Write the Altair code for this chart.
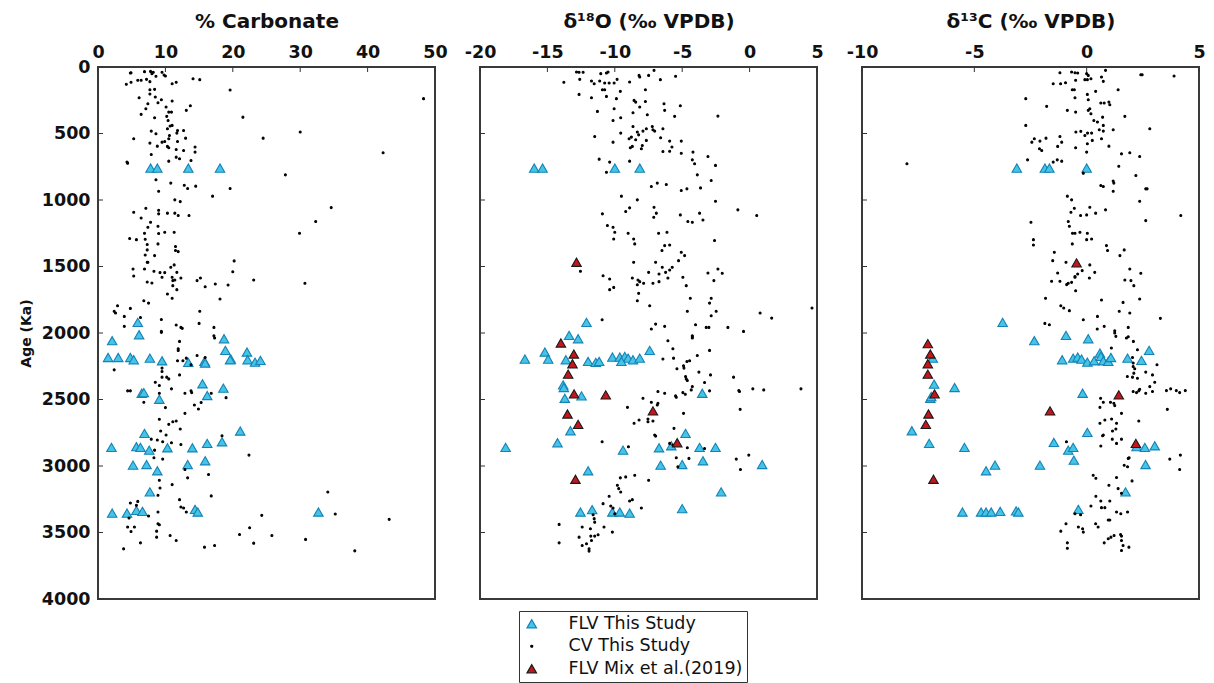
import altair as alt
import pandas as pd

SERIES = ["FLV This Study", "CV This Study", "FLV Mix et al.(2019)"]
FILL = ["#45C4E8", "#000000", "#C4161C"]
STROKE = ["#1583B5", "#000000", "#1a1a1a"]
SHAPE = ["triangle-up", "circle", "triangle-up"]
SIZE = [90, 4, 90]

AGE_TICKS = [0, 500, 1000, 1500, 2000, 2500, 3000, 3500, 4000]
CARB_TICKS = [0, 10, 20, 30, 40, 50]
O18_TICKS = [-20, -15, -10, -5, 0, 5]
C13_TICKS = [-10, -5, 0, 5]

# ---------- % Carbonate (value, age ka) ----------
CARB_CV = [
    (4.8, 45), (4.9, 43), (6.9, 35), (7.8, 33), (8.0, 50), (8.2, 40), (8.6, 70), (9.5, 40), (9.8, 60), (10.0, 68),
    (4.2, 130), (4.9, 115), (5.9, 100), (6.4, 100), (7.2, 93), (7.7, 110), (11.0, 126), (11.6, 115), (14.1, 88), (15.1, 95),
    (19.6, 173), (48.3, 238), (7.7, 171), (8.4, 168), (7.7, 203), (8.5, 226), (6.1, 231), (9.4, 246), (8.9, 269), (7.4, 276),
    (7.1, 314), (10.1, 301), (10.5, 339), (10.9, 339), (11.0, 256), (13.7, 291), (13.1, 326), (6.4, 356), (8.4, 382), (10.2, 371),
    (10.4, 402), (10.7, 444), (11.0, 439), (10.3, 464), (7.9, 482), (8.6, 502), (11.8, 477), (11.7, 497), (12.7, 477), (21.5, 377),
    (30.0, 489), (5.3, 540), (10.6, 515), (10.5, 540), (9.9, 560), (9.5, 565), (11.8, 560), (13.0, 535), (7.7, 572), (8.8, 595),
    (10.3, 597), (10.5, 607), (11.6, 620), (12.7, 628), (14.4, 602), (14.4, 640), (7.9, 658), (13.8, 703), (11.6, 678), (12.1, 690),
    (10.5, 708), (4.3, 715), (4.4, 723), (42.3, 645), (24.5, 535), (8.6, 848), (9.0, 934), (10.8, 873), (12.8, 889), (13.3, 914),
    (14.5, 896), (19.6, 914), (27.8, 811), (17.0, 971), (11.4, 999), (12.2, 1012), (34.6, 1057), (5.3, 1092), (7.1, 1062), (9.0, 1077),
    (9.0, 1104), (10.3, 1099), (11.4, 1099), (11.9, 1117), (13.5, 1117), (6.4, 1135), (7.8, 1167), (7.4, 1205), (8.9, 1197), (32.3, 1162),
    (29.9, 1250), (6.9, 1250), (9.0, 1252), (9.9, 1242), (11.3, 1242), (4.7, 1290), (5.7, 1298), (7.0, 1295), (7.3, 1335), (7.3, 1375),
    (8.9, 1330), (11.5, 1350), (11.5, 1380), (11.9, 1388), (7.0, 1413), (8.4, 1418), (20.2, 1458), (7.3, 1468), (7.4, 1468), (5.2, 1519),
    (5.3, 1571), (6.9, 1519), (8.3, 1536), (9.2, 1546), (9.5, 1581), (9.9, 1546), (10.8, 1506), (11.3, 1488), (11.7, 1544), (11.0, 1581),
    (11.1, 1606), (11.4, 1601), (12.3, 1586), (7.3, 1616), (8.0, 1624), (14.7, 1606), (15.2, 1586), (15.9, 1652), (17.4, 1632), (19.3, 1639),
    (20.0, 1539), (23.1, 1601), (30.7, 1626), (11.7, 1674), (11.1, 1644), (10.3, 1707), (11.0, 1739), (18.1, 1744), (6.8, 1757), (7.5, 1775),
    (2.9, 1795), (2.4, 1837), (2.6, 1850), (4.8, 1815), (3.9, 1875), (6.3, 1883), (9.4, 1898), (15.1, 1837), (15.0, 1928), (17.2, 1958),
    (11.6, 1940), (12.3, 1958), (12.5, 1965), (3.9, 1950), (9.4, 1988), (17.2, 2021),
    (9.4, 1995), (12.1, 2063), (11.9, 2118), (11.9, 2131), (17.3, 2038), (2.4, 2277), (9.5, 2264), (9.5, 2289), (11.8, 2209), (12.6, 2209),
    (13.1, 2189), (13.8, 2239), (14.7, 2169), (15.9, 2184), (9.5, 2332), (10.2, 2332), (10.5, 2345), (8.5, 2370), (9.1, 2395), (12.1, 2315),
    (10.9, 2420), (4.4, 2435), (4.8, 2435), (6.8, 2521), (9.1, 2453), (10.0, 2561), (12.9, 2453), (13.8, 2435), (13.9, 2448), (14.3, 2541),
    (14.9, 2571), (15.3, 2523), (16.8, 2453), (19.0, 2486), (9.1, 2649), (10.5, 2687), (11.1, 2667), (11.6, 2662), (12.2, 2722), (12.9, 2604),
    (9.3, 2737), (10.1, 2767), (9.6, 2818), (7.9, 2798), (8.8, 2805), (8.4, 2881), (8.3, 2938), (9.6, 2948), (10.9, 2825), (12.3, 2838),
    (18.4, 2772), (22.4, 2918), (16.4, 3064), (13.3, 3089), (12.9, 3026), (9.1, 3107), (11.0, 3140), (9.2, 3165), (8.9, 3220), (16.8, 3225),
    (12.1, 3253), (12.3, 3308), (12.7, 3316), (13.1, 3346), (8.9, 3346), (4.8, 3278), (5.9, 3266), (5.7, 3296), (7.5, 3376), (4.6, 3391),
    (4.4, 3459), (5.4, 3459), (4.9, 3492), (6.3, 3578), (3.8, 3623), (8.9, 3434), (9.1, 3442), (8.7, 3490), (8.7, 3535), (10.7, 3522),
    (11.6, 3560), (15.8, 3610), (17.3, 3598), (21.0, 3515), (22.5, 3464), (23.1, 3580), (24.3, 3371), (25.8, 3522), (30.8, 3552), (34.1, 3195),
    (35.2, 3361), (43.2, 3401), (38.1, 3638),
]
CARB_FLV = [
    (7.8, 760), (8.8, 760), (13.4, 760), (18.1, 760), (5.9, 1920), (6.1, 2013), (2.1, 2058), (18.7, 2043), (18.9, 2131), (19.7, 2196),
    (22.1, 2143), (1.5, 2184), (3.0, 2184), (4.8, 2184), (5.3, 2201), (7.7, 2189), (9.5, 2209), (13.4, 2221), (15.8, 2214), (15.9, 2226),
    (19.6, 2201), (22.2, 2201), (23.3, 2219), (24.1, 2206), (15.5, 2382), (16.2, 2470), (18.6, 2415), (6.5, 2453), (6.8, 2448), (9.1, 2498),
    (6.9, 2755), (21.1, 2737), (2.0, 2860), (5.7, 2855), (6.3, 2860), (7.6, 2881), (10.3, 2863), (14.0, 2863), (16.2, 2830), (18.4, 2818),
    (5.2, 2994), (7.2, 2989), (8.8, 3036), (13.3, 2989), (15.9, 2961), (7.7, 3195), (2.1, 3354), (4.3, 3354), (5.7, 3334), (6.6, 3341),
    (14.4, 3326), (14.8, 3346), (32.7, 3346),
]
CARB_MIX = []

# ---------- d18O ----------
O18_CV = [
    (-12.84, 38), (-12.65, 40), (-12.35, 40), (-13.78, 115), (-12.6, 93), (-12.65, 206), (-11.73, 105), (-11.53, 126), (-11.12, 105),
    (-11.04, 50), (-10.62, 45), (-10.5, 38), (-10.75, 120), (-10.42, 120), (-10.05, 120), (-9.83, 93), (-9.59, 183), (-9.88, 238), (-8.9, 113),
    (-8.2, 63), (-8.15, 75), (-7.49, 63), (-7.09, 25), (-6.62, 95), (-5.49, 70), (-10.92, 171), (-10.75, 171), (-10.62, 221), (-11.73, 231),
    (-11.29, 334), (-10.05, 314), (-10.13, 402), (-9.56, 382), (-8.57, 251), (-8.45, 264), (-8.65, 344), (-7.73, 171), (-7.73, 259), (-8.15, 301),
    (-7.59, 359), (-6.35, 276), (-6.3, 326), (-5.14, 291), (-5.56, 371), (-2.35, 369), (-8.65, 447), (-8.33, 489), (-7.91, 482), (-7.66, 464),
    (-7.17, 472), (-7.04, 482), (-7.22, 447), (-6.43, 464), (-9.56, 497), (-8.94, 540), (-8.77, 527), (-8.45, 547), (-8.85, 607), (-8.7, 597),
    (-8.23, 510), (-7.96, 590), (-8.03, 615), (-7.66, 552), (-6.6, 532), (-5.93, 557), (-5.76, 602), (-5.93, 633), (-6.43, 635), (-5.07, 557),
    (-5.07, 648), (-10.13, 565), (-11.49, 522), (-4.2, 640), (-4.25, 698), (-4.08, 728), (-3.09, 673), (-2.53, 740), (-3.88, 811), (-2.85, 853),
    (-11.16, 693), (-10.38, 715), (-10.62, 791), (-8.9, 708), (-7.29, 899), (-6.85, 873), (-6.18, 884), (-5.07, 929), (-4.65, 916), (-3.64, 909),
    (-2.53, 1009), (-9.51, 971), (-8.33, 999), (-8.9, 1059), (-9.19, 1087), (-10.92, 1104), (-7.09, 1054), (-6.92, 1099), (-7.11, 1130), (-5.14, 1112),
    (-4.58, 1162), (-4.25, 1167), (-3.71, 1099), (-3.46, 1150), (-0.87, 1074), (0.53, 1117), (-10.55, 1192), (-10.13, 1205), (-10.0, 1242), (-10.08, 1293),
    (-9.01, 1250), (-8.6, 1293), (-8.52, 1330), (-6.75, 1250), (-6.13, 1242), (-6.5, 1380), (-6.3, 1343), (-5.93, 1338), (-2.6, 1305), (-5.07, 1393),
    (-4.82, 1418), (-5.27, 1456), (-8.6, 1468), (-6.97, 1468), (-6.48, 1506), (-6.72, 1556), (-6.23, 1544), (-5.93, 1526), (-5.74, 1506), (-6.06, 1586),
    (-12.55, 1536), (-10.87, 1569), (-10.38, 1594), (-10.38, 1674), (-10.08, 1657), (-8.7, 1586), (-8.28, 1601), (-8.15, 1614), (-8.33, 1637), (-7.86, 1626),
    (-7.49, 1544), (-7.17, 1626), (-6.72, 1614), (-4.95, 1581), (-4.7, 1644), (-3.09, 1549), (-2.65, 1606), (-2.35, 1519), (-2.03, 1551), (-8.23, 1702),
    (-8.33, 1757), (-7.41, 1795), (-4.4, 1739), (-4.62, 1837), (-2.85, 1739), (-2.97, 1775), (-2.48, 1837), (-2.85, 1870), (0.78, 1850), (1.64, 1888),
    (4.63, 1812), (-10.94, 1900), (-6.97, 1933), (-7.29, 1970), (-6.3, 1950), (-4.01, 1938), (-3.22, 1958), (-3.02, 1958), (-1.61, 1958), (-0.45, 1988),
    (-4.25, 2021), (-6.06, 2058),
    (-4.25, 2030), (-4.25, 2038), (-5.69, 2118), (-2.97, 2131), (-6.43, 2196), (-5.64, 2189), (-5.39, 2269), (-4.87, 2264), (-4.65, 2214),
    (-4.45, 2209), (-4.9, 2247), (-3.88, 2169), (-4.75, 2327), (-4.7, 2345), (-4.62, 2357), (-3.76, 2294), (-2.9, 2315), (-3.34, 2372), (-4.25, 2403),
    (-4.33, 2428), (-4.95, 2448), (-4.77, 2460), (-5.49, 2473), (-5.44, 2483), (-2.97, 2435), (-1.19, 2332), (-0.8, 2433), (-0.75, 2440), (0.24, 2420),
    (1.05, 2428), (3.81, 2420), (-0.7, 2574), (-6.8, 2440), (-6.3, 2453), (-7.91, 2491), (-9.06, 2559), (-7.29, 2521), (-6.8, 2528), (-6.85, 2541),
    (-8.2, 2654), (-7.54, 2647), (-7.54, 2667), (-7.17, 2662), (-8.57, 2679), (-4.9, 2604), (-7.04, 2767), (-6.97, 2775), (-5.61, 2717), (-10.94, 2818),
    (-8.99, 2855), (-5.93, 2830), (-5.69, 2843), (-4.62, 2863), (-3.34, 2868), (-5.44, 2938), (-5.32, 3006), (-4.5, 2943), (-0.99, 2948), (-0.06, 2918),
    (-0.68, 3026), (-9.59, 3089), (-9.19, 3082), (-8.52, 3069), (-7.49, 3107), (-9.81, 3145), (-9.71, 3170), (-9.56, 3195), (-10.42, 3228), (-8.9, 3263),
    (-8.7, 3253), (-8.03, 3316), (-10.87, 3283), (-10.3, 3301), (-10.13, 3316), (-10.0, 3359), (-11.61, 3366), (-11.53, 3396), (-11.49, 3422), (-12.42, 3459),
    (-10.8, 3459), (-10.18, 3497), (-11.24, 3517), (-11.49, 3527), (-11.78, 3527), (-11.73, 3560), (-11.81, 3472), (-14.13, 3439), (-14.13, 3578), (-12.65, 3535),
    (-12.42, 3598), (-12.1, 3585), (-11.91, 3623), (-11.91, 3640),
]
O18_FLV = [
    (-15.98, 760), (-15.36, 760), (-10.0, 760), (-8.15, 760), (-12.1, 1920), (-13.39, 2018), (-12.72, 2043), (-16.67, 2196), (-15.19, 2143), (-14.94, 2196),
    (-13.63, 2201), (-11.98, 2214), (-11.41, 2221), (-11.16, 2214), (-10.18, 2181), (-9.63, 2181), (-9.26, 2176), (-9.01, 2189), (-8.65, 2201), (-8.15, 2189),
    (-9.51, 2214), (-7.41, 2131), (-13.83, 2390), (-13.78, 2410), (-13.71, 2491), (-12.47, 2473), (-3.51, 2453), (-13.29, 2735), (-14.25, 2825), (-18.1, 2860),
    (-9.39, 2881), (-6.72, 2863), (-5.81, 2848), (-4.75, 2755), (-3.71, 2860), (-2.53, 2860), (-6.6, 2994), (-5.0, 2989), (-3.46, 2961), (0.93, 2989),
    (-11.98, 3036), (-2.11, 3195), (-12.55, 3346), (-11.68, 3328), (-10.18, 3346), (-9.63, 3346), (-8.9, 3354), (-5.0, 3321),
]
O18_MIX = [
    (-12.84, 1468), (-14.0, 2075), (-13.04, 2158), (-13.14, 2231), (-13.46, 2309), (-13.02, 2458), (-10.67, 2465), (-13.51, 2609),
    (-12.72, 2687), (-7.17, 2586), (-5.37, 2825), (-12.92, 3100),
]

# ---------- d13C ----------
C13_CV = [
    (-1.19, 43), (-0.67, 38), (-0.52, 43), (-0.4, 45), (0.0, 50), (0.07, 63), (0.84, 25), (0.03, 95), (0.19, 88), (0.66, 75), (0.74, 108), (2.41, 58), (2.47, 58), (3.89, 68),
    (-1.49, 126), (-1.16, 126), (-0.94, 118), (-0.49, 100), (-0.08, 95), (-0.64, 171), (-0.55, 171), (0.4, 183), (1.4, 171), (-2.71, 238), (-1.78, 296), (-0.86, 326), (-0.49, 339), (-0.52, 231),
    (0.03, 206), (0.07, 246), (0.14, 314), (0.07, 326), (0.19, 351), (0.63, 271), (0.78, 271), (0.99, 264), (1.03, 284), (1.7, 371), (0.32, 402), (0.48, 414), (0.71, 377), (0.74, 439),
    (0.56, 472), (0.74, 482), (1.18, 472), (2.81, 464), (-2.71, 439), (-2.33, 540), (-2.44, 565), (-2.08, 557), (-1.81, 535), (-2.1, 615), (-2.0, 628), (-2.63, 698), (-1.29, 597), (-1.11, 565), (-1.19, 522),
    (-0.48, 489), (-0.26, 484), (-0.08, 515), (0.04, 497), (0.22, 497), (-0.49, 607), (0.03, 577), (0.0, 640), (0.25, 552), (0.66, 540), (0.99, 595), (1.55, 653), (1.92, 645), (2.36, 673),
    (-1.49, 715), (-1.31, 698), (-1.11, 708), (-8.0, 728), (-0.15, 798), (1.43, 746), (2.19, 816), (0.63, 891), (0.74, 899), (1.18, 858), (1.21, 873), (1.18, 934), (2.63, 916), (2.69, 916),
    (-0.86, 971), (-0.67, 999), (-0.55, 1062), (-0.7, 1092), (-0.27, 1117), (0.0, 1112), (0.14, 1054), (0.4, 1099), (0.84, 1074), (2.36, 1009), (2.63, 1155), (4.19, 1117), (-2.48, 1167),
    (-0.82, 1162), (-0.77, 1197), (-0.63, 1250), (-0.52, 1250), (-0.3, 1242), (0.03, 1250), (0.22, 1293), (0.0, 1298), (-2.37, 1298), (-2.37, 1338), (-0.64, 1330),
    (0.88, 1343), (0.93, 1380), (1.48, 1418), (1.67, 1375), (-1.44, 1393), (-1.51, 1456), (-0.92, 1468), (0.14, 1488), (0.36, 1544), (-0.2, 1531), (-0.4, 1556), (-0.52, 1576), (-0.52, 1581),
    (-1.29, 1549), (-1.56, 1611), (-1.19, 1611), (-0.89, 1636), (-0.82, 1626), (-0.67, 1619), (-0.49, 1682), (0.12, 1586), (1.92, 1519), (2.41, 1551), (1.7, 1601), (1.97, 1606), (2.1, 1644),
    (-1.83, 1739), (-1.15, 1795), (-1.02, 1812), (-0.77, 1832), (0.66, 1752), (1.62, 1770), (2.36, 1744), (-0.15, 1900), (0.48, 1875), (0.78, 1950), (0.47, 1970),
    (1.45, 1837), (1.92, 1850), (1.25, 1983), (1.85, 1958), (1.85, 2028), (3.28, 1890), (-1.86, 1928), (-1.66, 1938),
    (1.25, 2000), (1.3, 2025), (1.77, 2038), (2.08, 2063), (1.1, 2113), (2.26, 2126), (3.13, 2239), (2.04, 2184), (2.07, 2226), (2.07, 2252), (2.14, 2269), (2.1, 2302), (2.04, 2332), (2.26, 2340), (1.81, 2327),
    (2.63, 2294), (2.93, 2315), (3.03, 2370), (2.81, 2403), (2.93, 2440), (2.07, 2440), (2.22, 2448), (2.32, 2435), (2.36, 2423), (2.63, 2453),
    (3.55, 2433), (3.74, 2420), (3.99, 2433), (4.14, 2448), (4.39, 2433), (3.59, 2574), (2.32, 2662),
    (0.62, 2491), (0.74, 2521), (0.59, 2559), (1.06, 2521), (1.21, 2528), (1.25, 2546), (1.55, 2604),
    (0.59, 2679), (0.81, 2654), (1.11, 2647), (1.33, 2679), (1.3, 2722), (1.15, 2737),
    (0.74, 2767), (0.71, 2772), (1.14, 2798), (1.33, 2830), (1.55, 2798), (0.63, 2850), (-0.9, 2818),
    (1.89, 2938), (1.85, 2943), (1.67, 2994), (1.82, 3006), (3.7, 2948), (4.17, 2918), (4.14, 3026),
    (0.29, 3069), (0.41, 3092), (0.99, 3145), (1.33, 3087), (2.02, 3112), (1.4, 3170), (1.55, 3205),
    (0.41, 3228), (0.63, 3263), (1.03, 3263), (0.66, 3313), (0.81, 3313), (0.19, 3301), (0.96, 3406), (1.03, 3406),
    (1.33, 3346), (1.52, 3359), (1.82, 3346), (-0.52, 3359), (-0.27, 3366), (-0.92, 3434), (-1.15, 3490),
    (-0.37, 3459), (-0.18, 3472), (-0.15, 3497), (0.4, 3434), (0.51, 3459), (-0.86, 3578), (-0.86, 3618),
    (0.78, 3578), (0.96, 3547), (1.08, 3535), (1.22, 3522), (1.51, 3515), (1.55, 3527), (1.55, 3560), (1.62, 3598), (1.55, 3635), (1.88, 3610),
]
C13_FLV = [
    (-3.11, 760), (-1.86, 760), (-1.66, 760), (0.0, 760), (-3.74, 1920), (-2.33, 2058), (-0.92, 2018), (0.07, 2043), (2.78, 2131), (2.44, 2206), (-1.09, 2201),
    (-0.6, 2189), (-0.4, 2181), (-0.23, 2196), (0.03, 2219), (0.33, 2209), (0.59, 2151), (0.63, 2176), (0.74, 2209), (0.96, 2214), (1.08, 2184), (1.82, 2189),
    (-6.85, 2189), (-6.79, 2385), (-5.88, 2410), (-6.96, 2491), (-6.92, 2478), (-0.18, 2453), (-7.78, 2735), (-7.01, 2830), (-5.44, 2860),
    (-1.46, 2823), (-0.82, 2881), (-0.6, 2860), (-0.57, 2956), (0.03, 2747), (2.22, 2855), (2.59, 2860), (3.03, 2848), (-4.48, 3036), (-4.08, 2994), (-2.08, 2994),
    (2.62, 2989), (1.73, 3195), (-0.37, 3326), (-5.53, 3346), (-4.7, 3346), (-4.48, 3346), (-4.25, 3346), (-3.85, 3341), (-3.14, 3338), (-3.04, 3346),
]
C13_MIX = [
    (-0.45, 1473), (-7.07, 2080), (-6.96, 2158), (-7.07, 2231), (-7.07, 2309), (-6.77, 2458), (-7.04, 2609), (-7.16, 2687),
    (-1.63, 2586), (1.43, 2465), (2.19, 2830), (-6.82, 3100),
]

FONT = "DejaVu Sans"
INK = "#111111"

LEGEND = alt.Legend(
    title=None, orient="none", legendX=421, legendY=544,
    strokeColor="#333333", fillColor="white", padding=4,
    labelFont=FONT, labelFontSize=17.5, labelColor=INK, labelOffset=28, labelLimit=400,
    rowPadding=3.5, symbolStrokeWidth=1.2,
)


def panel(cv, flv, mix, domain, ticks, title, first):
    rows = []
    for name, pts in ((SERIES[0], flv), (SERIES[1], cv), (SERIES[2], mix)):
        rows += [{"val": v, "age": a, "series": name} for v, a in pts]
    df = pd.DataFrame(rows)
    xscale = alt.Scale(domain=domain, nice=False, zero=False)
    yscale = alt.Scale(domain=[0, 4000], reverse=True, nice=False, zero=False)
    xaxis = alt.Axis(
        orient="top", values=ticks, ticks=False, domain=False, grid=False,
        labelFlush=False, labelOverlap=False, labelExpr="'' + datum.value",
        labelFont=FONT, labelFontWeight="bold", labelFontSize=17.5, labelColor=INK,
        labelPadding=6, titleFont=FONT, titleFontWeight="bold", titleFontSize=20,
        titleColor=INK, titlePadding=12,
    )
    if first:
        yaxis = alt.Axis(
            values=AGE_TICKS, ticks=False, domain=False, grid=False,
            labelExpr="'' + datum.value",
            labelFont=FONT, labelFontWeight="bold", labelFontSize=17.5, labelColor=INK,
            labelPadding=8, labelOverlap=False, labelFlush=False,
            titleFont=FONT, titleFontWeight="bold", titleFontSize=14, titleColor=INK,
            titlePadding=8,
        )
    else:
        yaxis = None
    X = alt.X("val:Q", scale=xscale, axis=xaxis, title=title)
    Y = alt.Y("age:Q", scale=yscale, axis=yaxis, title="Age (Ka)")
    pts = alt.Chart(df).mark_point(filled=True, opacity=1, strokeWidth=1.1).encode(
        x=X,
        y=Y,
        fill=alt.Fill("series:N", scale=alt.Scale(domain=SERIES, range=FILL), legend=LEGEND),
        stroke=alt.Stroke("series:N", scale=alt.Scale(domain=SERIES, range=STROKE), legend=LEGEND),
        shape=alt.Shape("series:N", scale=alt.Scale(domain=SERIES, range=SHAPE), legend=LEGEND),
        size=alt.Size("series:N", scale=alt.Scale(type="ordinal", domain=SERIES, range=SIZE), legend=LEGEND),
    )
    xt = alt.Chart(pd.DataFrame({"val": ticks})).mark_rule(color="#333333", strokeWidth=1).encode(
        x=X, y=alt.value(0), y2=alt.value(5)
    )
    yt = alt.Chart(pd.DataFrame({"age": AGE_TICKS})).mark_rule(color="#333333", strokeWidth=1).encode(
        y=Y, x=alt.value(0), x2=alt.value(5)
    )
    return alt.layer(pts, xt, yt).properties(width=337, height=532)


p1 = panel(CARB_CV, CARB_FLV, CARB_MIX, [0, 50], CARB_TICKS, "% Carbonate", True)
p2 = panel(O18_CV, O18_FLV, O18_MIX, [-20, 5], O18_TICKS, "δ¹⁸O (‰ VPDB)", False)
p3 = panel(C13_CV, C13_FLV, C13_MIX, [-10, 5], C13_TICKS, "δ¹³C (‰ VPDB)", False)

chart = (
    alt.hconcat(p1, p2, p3, spacing=45, bounds="flush")
    .properties(padding={"left": 18, "top": 10, "right": 5, "bottom": 0}, background="white")
    .configure_view(stroke="#3a3a3a", strokeWidth=2)
)

chart.save("out.html", embed_options={"renderer": "svg", "actions": False})
